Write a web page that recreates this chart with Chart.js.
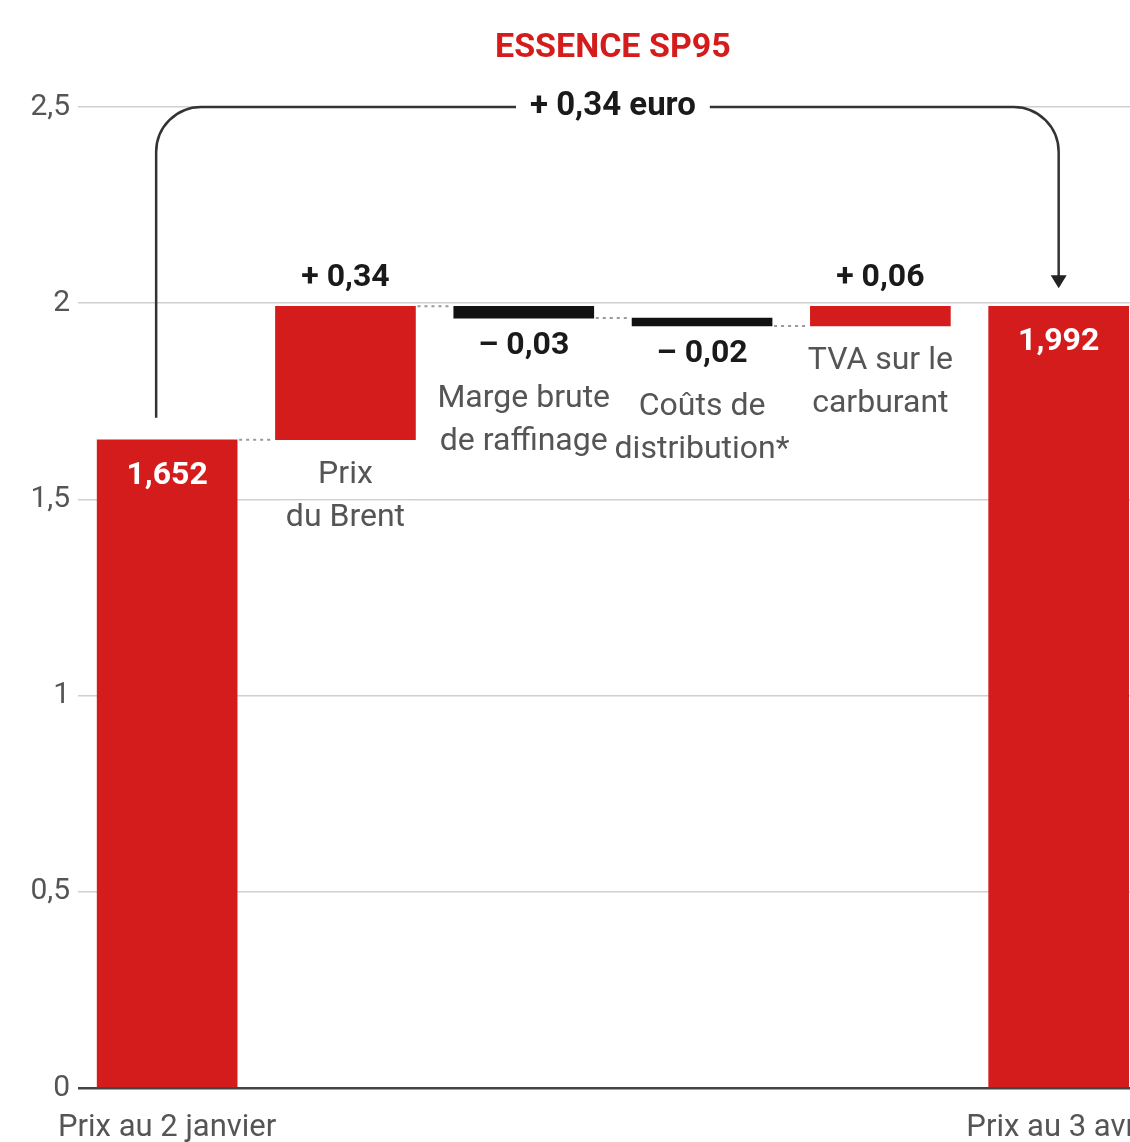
<!DOCTYPE html>
<html lang="fr">
<head>
<meta charset="UTF-8">
<title>Essence SP95</title>
<style>
    html, body { margin: 0; padding: 0; background: #fff; overflow: hidden; }
    #wrap { width: 1165px; height: 1142px; }
</style>
</head>
<body>
<div id="wrap"><canvas id="myChart"></canvas></div>

<script src="https://cdn.jsdelivr.net/npm/chart.js"></script>
<script>
    // données (euros par litre)
    const categories = ["Prix au 2 janvier", "Prix du Brent", "Marge brute de raffinage", "Coûts de distribution*", "TVA sur le carburant", "Prix au 3 avril"];
    const barStarts = [0, 1.652, 1.992, 1.962, 1.942, 0];
    const barEnds = [1.652, 1.992, 1.962, 1.942, 1.992, 1.992];
    const valueLabels = ["1,652", "+ 0,34", "– 0,03", "– 0,02", "+ 0,06", "1,992"];
    const nameLines = [[], ["Prix", "du Brent"], ["Marge brute", "de raffinage"], ["Coûts de", "distribution*"], ["TVA sur le", "carburant"], []];
    const yTicks = [0, 0.5, 1, 1.5, 2, 2.5];
    const yTickLabels = ["0", "0,5", "1", "1,5", "2", "2,5"];
    const totalChange = "+ 0,34 euro";
    const title = "ESSENCE SP95";

    const RED = "#d41c1c";
    const FONT = "Roboto, 'Noto Sans', sans-serif";

    const isTotal = i => i === 0 || i === categories.length - 1;

    const barColors = categories.map((c, i) => barEnds[i] < barStarts[i] ? "#111111" : RED);

    // titre, étiquettes, connecteurs pointillés et flèche
    const annotations = {
        id: "annotations",
        afterDatasetsDraw(chart) {
            const ctx = chart.ctx;
            const x = chart.scales.x;
            const y = chart.scales.y;
            const half = 70;
            const cx = (chart.chartArea.left + chart.chartArea.right) / 2;
            ctx.save();

            ctx.textAlign = "center";
            ctx.textBaseline = "middle";
            ctx.fillStyle = RED;
            ctx.font = "bold 34px " + FONT;
            ctx.fillText(title, cx, 48);

            // pointillés entre les barres
            ctx.strokeStyle = "#9a9a9a";
            ctx.lineWidth = 2;
            ctx.setLineDash([3, 4]);
            for (let i = 0; i < 4; i++) {
                const yy = y.getPixelForValue(barEnds[i]);
                ctx.beginPath();
                ctx.moveTo(x.getPixelForValue(i) + half + 2, yy);
                ctx.lineTo(x.getPixelForValue(i + 1) - half - 2, yy);
                ctx.stroke();
            }
            ctx.setLineDash([]);

            // position des noms de catégorie
            const names = [];
            categories.forEach((c, i) => {
                const xc = x.getPixelForValue(i);
                const yTop = y.getPixelForValue(Math.max(barStarts[i], barEnds[i]));
                const yBot = y.getPixelForValue(Math.min(barStarts[i], barEnds[i]));
                if (isTotal(i)) {
                    ctx.fillStyle = "#ffffff";
                    ctx.font = "bold 32px " + FONT;
                    ctx.fillText(valueLabels[i], xc, yTop + 36);
                    return;
                }
                let nameY;
                ctx.font = "bold 32px " + FONT;
                ctx.fillStyle = "#1a1a1a";
                if (barEnds[i] > barStarts[i]) {
                    ctx.fillText(valueLabels[i], xc, yTop - 28);
                    nameY = yBot + 35;
                } else {
                    ctx.fillText(valueLabels[i], xc, yBot + 28);
                    nameY = yBot + 81;
                }
                nameLines[i].forEach((line, k) => names.push({ line, xc, ly: nameY + k * 43 }));
            });

            // fond blanc sous les noms (coupe le quadrillage), puis le texte
            ctx.font = "32px " + FONT;
            ctx.fillStyle = "#ffffff";
            names.forEach(n => {
                const w = ctx.measureText(n.line).width;
                ctx.fillRect(n.xc - w / 2 - 4, n.ly - 17, w + 8, 34);
            });
            ctx.fillStyle = "#555555";
            names.forEach(n => ctx.fillText(n.line, n.xc, n.ly));

            // flèche de variation totale
            const last = categories.length - 1;
            const x0 = x.getPixelForValue(0) - 11;
            const x1 = x.getPixelForValue(last);
            const yStart = y.getPixelForValue(barEnds[0]) - 22;
            const yTopLine = y.getPixelForValue(2.5);
            const yTip = y.getPixelForValue(barEnds[last]) - 18;
            const r = 45;
            ctx.strokeStyle = "#333333";
            ctx.lineWidth = 2.5;
            ctx.beginPath();
            ctx.moveTo(x0, yStart);
            ctx.lineTo(x0, yTopLine + r);
            ctx.arcTo(x0, yTopLine, x0 + r, yTopLine, r);
            ctx.lineTo(x1 - r, yTopLine);
            ctx.arcTo(x1, yTopLine, x1, yTopLine + r, r);
            ctx.lineTo(x1, yTip - 10);
            ctx.stroke();
            ctx.fillStyle = "#222222";
            ctx.beginPath();
            ctx.moveTo(x1, yTip);
            ctx.lineTo(x1 - 8, yTip - 13);
            ctx.lineTo(x1 + 8, yTip - 13);
            ctx.closePath();
            ctx.fill();

            ctx.font = "bold 33px " + FONT;
            const tw = ctx.measureText(totalChange).width;
            ctx.fillStyle = "#ffffff";
            ctx.fillRect(cx - tw / 2 - 14, yTopLine - 19, tw + 28, 38);
            ctx.fillStyle = "#1a1a1a";
            ctx.fillText(totalChange, cx, yTopLine);

            ctx.restore();
        }
    };

    const ctx = document.getElementById("myChart").getContext("2d");
    const myChart = new Chart(ctx, {
        type: "bar",
        data: {
            labels: categories,
            datasets: [{
                data: categories.map((c, i) => [barStarts[i], barEnds[i]]),
                backgroundColor: barColors,
                borderWidth: 0,
                barThickness: 140
            }]
        },
        options: {
            responsive: true,
            maintainAspectRatio: false,
            animation: false,
            layout: { padding: { left: 0, right: 0, top: 107, bottom: 0 } },
            plugins: {
                legend: { display: false },
                tooltip: { enabled: false },
                title: { display: false }
            },
            scales: {
                x: {
                    afterFit: scale => { scale.height = 54; },
                    grid: { display: false },
                    border: { display: false },
                    ticks: {
                        color: "#555555",
                        font: { family: FONT, size: 31 },
                        padding: 14,
                        maxRotation: 0,
                        autoSkip: false,
                        callback: (v, i) => isTotal(i) ? categories[i] : ""
                    }
                },
                y: {
                    min: 0,
                    max: 2.5,
                    afterFit: scale => { scale.width = 78; },
                    border: { display: false },
                    grid: {
                        drawTicks: false,
                        color: c => c.tick && c.tick.value === 0 ? "#444444" : "#d0d0d0",
                        lineWidth: c => c.tick && c.tick.value === 0 ? 2.5 : 1.5
                    },
                    ticks: {
                        stepSize: 0.5,
                        padding: 8,
                        color: "#555555",
                        font: { family: FONT, size: 30 },
                        callback: v => {
                            const k = yTicks.indexOf(v);
                            return k >= 0 ? yTickLabels[k] : "";
                        }
                    }
                }
            }
        },
        plugins: [annotations]
    });
</script>
</body>
</html>
